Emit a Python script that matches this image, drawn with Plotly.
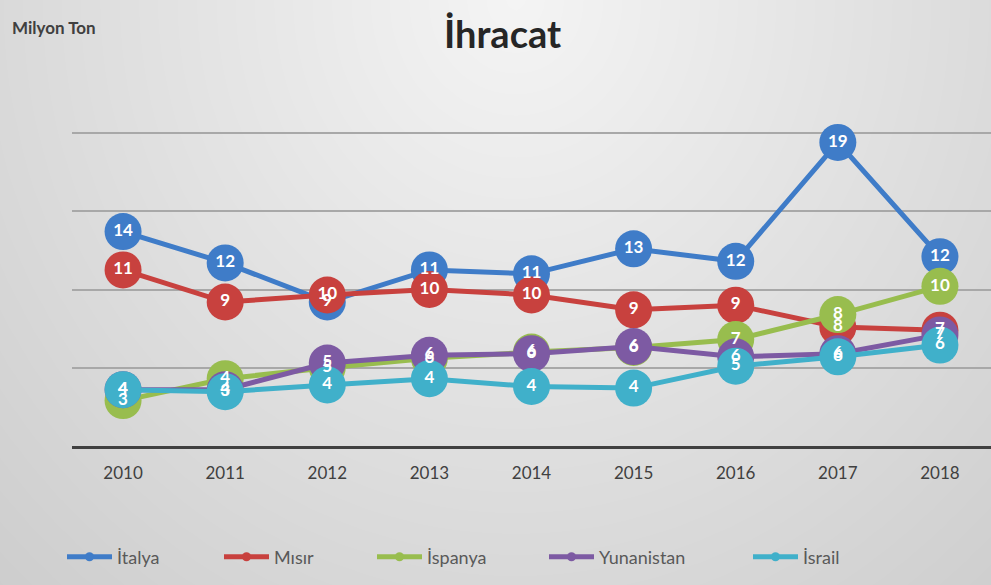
import numpy as np
import plotly.graph_objects as go

years = ["2010", "2011", "2012", "2013", "2014", "2015", "2016", "2017", "2018"]
italya = [13.7, 11.7, 9.2, 11.25, 11.0, 12.6, 11.8, 19.4, 12.1]
misir = [11.25, 9.2, 9.65, 10.0, 9.65, 8.7, 9.0, 7.6, 7.4]
ispanya = [2.9, 4.3, 5.0, 5.6, 6.0, 6.3, 6.8, 8.4, 10.2]
yunanistan = [3.6, 3.6, 5.3, 5.8, 5.9, 6.35, 5.7, 5.9, 7.1]
israil = [3.6, 3.47, 3.9, 4.3, 3.8, 3.7, 5.1, 5.7, 6.45]

series_names = ["İtalya", "Mısır", "İspanya", "Yunanistan", "İsrail"]
series_values = [italya, misir, ispanya, yunanistan, israil]
colors = ["#3F7CC8", "#C8413E", "#98BD4E", "#7D5AA3", "#40B0CA"]
legend_left_px = [62, 219, 372, 544, 748]

W, H = 991, 585
FONT = "Lato"

fig = go.Figure()

# soft radial grey background (styling only)
nx, ny = 120, 70
gx = np.linspace(0, 1, nx)
gy = np.linspace(0, 1, ny)  # 0 = bottom, 1 = top
XX, YY = np.meshgrid(gx, gy)
d = np.sqrt(((XX - 0.52) / 0.6) ** 2 + ((1 - YY) / 1.1) ** 2)
bg = 244 - 40 * np.clip(d, 0, 1.3) / 1.3
fig.add_trace(go.Heatmap(
    z=bg, x=list(range(nx)), y=list(range(ny)), xaxis="x", yaxis="y",
    colorscale=[[0, "rgb(200,200,200)"], [1, "rgb(245,245,245)"]],
    zmin=200, zmax=245, zsmooth="best", showscale=False, hoverinfo="skip",
))

# lines + markers
for name, vals, col in zip(series_names, series_values, colors):
    fig.add_trace(go.Scatter(
        x=years, y=vals, mode="lines+markers", name=name,
        line=dict(color=col, width=5),
        marker=dict(size=37, color=col),
        xaxis="x2", yaxis="y2", showlegend=False, cliponaxis=False,
    ))

# data labels on top of everything
for name, vals in zip(series_names, series_values):
    fig.add_trace(go.Scatter(
        x=years, y=vals, mode="text", texttemplate="%{y:.0f}",
        textposition="middle center",
        textfont=dict(family=FONT, size=17, color="white", weight="bold"),
        xaxis="x2", yaxis="y2", showlegend=False, cliponaxis=False,
        hoverinfo="skip",
    ))

# legend entries, one legend per entry so each sits where the reference has it
legend_layouts = {}
for i, (name, col, lx) in enumerate(zip(series_names, colors, legend_left_px)):
    key = "legend" if i == 0 else f"legend{i + 1}"
    fig.add_trace(go.Scatter(
        x=[None], y=[None], mode="lines+markers", name=name,
        line=dict(color=col, width=5), marker=dict(size=9, color=col),
        xaxis="x2", yaxis="y2", showlegend=True, legend=key,
    ))
    legend_layouts[key] = dict(
        orientation="h", x=lx / W, xanchor="left", y=28 / H, yanchor="middle",
        font=dict(family=FONT, size=18, color="#595959"),
        bgcolor="rgba(0,0,0,0)", itemwidth=45,
    )

left_px, right_px, top_px, bottom_px = 72, 991, 133, 446
unit_px = (bottom_px - top_px) / 20.0
top_ext = 0.15

fig.update_layout(
    width=W, height=H,
    margin=dict(l=0, r=0, t=0, b=0),
    paper_bgcolor="#e6e6e6",
    plot_bgcolor="rgba(0,0,0,0)",
    font=dict(family=FONT, color="#404040"),
    xaxis=dict(domain=[0, 1], range=[0, nx - 1], visible=False, fixedrange=True),
    yaxis=dict(domain=[0, 1], range=[0, ny - 1], visible=False, fixedrange=True),
    xaxis2=dict(
        domain=[left_px / W, right_px / W], anchor="y2",
        type="category", range=[-0.5, 8.5],
        showgrid=False, zeroline=False,
        showline=True, linecolor="#404040", linewidth=3,
        ticks="outside", ticklen=10, tickcolor="rgba(0,0,0,0)",
        tickfont=dict(family=FONT, size=17, color="#404040"),
    ),
    yaxis2=dict(
        domain=[(H - bottom_px) / H, (H - top_px + top_ext * unit_px) / H], anchor="x2",
        range=[0, 20 + top_ext], tickvals=[0, 5, 10, 15, 20],
        showticklabels=False, showgrid=True, gridcolor="#a8a8a8", gridwidth=2,
        zeroline=False, showline=False,
    ),
    annotations=[
        dict(text="<b>İhracat</b>", x=0.507, y=1 - 33 / H, xref="paper", yref="paper",
             xanchor="center", yanchor="middle", showarrow=False,
             font=dict(family=FONT, size=38, color="#262626")),
        dict(text="<b>Milyon Ton</b>", x=10 / W, y=1 - 27 / H, xref="paper", yref="paper",
             xanchor="left", yanchor="middle", showarrow=False,
             font=dict(family=FONT, size=17, color="#404040")),
    ],
    **legend_layouts,
)

fig.write_html("out.html", config={"displayModeBar": False},
               post_script="document.body.style.margin='0';")
